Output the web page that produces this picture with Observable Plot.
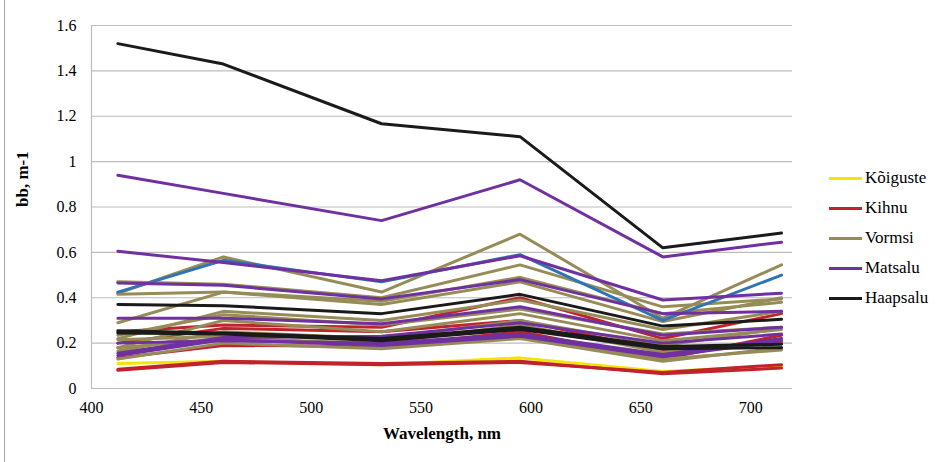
<!DOCTYPE html>
<html>
<head>
<meta charset="utf-8">
<script src="https://cdn.jsdelivr.net/npm/d3@7"></script>
<script src="https://cdn.jsdelivr.net/npm/@observablehq/plot@0.6"></script>
<style>
  html, body { margin: 0; padding: 0; background: #fff; }
  #wrap { position: relative; width: 943px; height: 462px; overflow: hidden; font-family: "Liberation Serif", "LiberationSerif", "Times New Roman", Times, "DejaVu Serif", serif; }
  #border { position: absolute; left: 4px; top: 0; width: 1px; height: 462px; background: #a6a6a6; }
  #legend { position: absolute; left: 829px; top: 163px; font-size: 17px; color: #000; }
  .item { display: flex; align-items: center; height: 30px; }
  .sw { width: 33px; height: 3px; margin-right: 3px; }
</style>
</head>
<body>
<div id="wrap"><div id="border"></div><div id="chart"></div><div id="legend"></div></div>
<script>
// Wavelengths (nm)
const wavelengths = [412, 460, 532, 595, 660, 714];

// bb (m-1) series per site, one array per measurement station
const koiguste = [
  [0.11, 0.12, 0.105, 0.135, 0.075, 0.10]
];
const kihnu = [
  [0.08, 0.115, 0.105, 0.115, 0.07, 0.105],
  [0.085, 0.12, 0.11, 0.12, 0.065, 0.09],
  [0.25, 0.28, 0.27, 0.40, 0.22, 0.33],
  [0.135, 0.19, 0.185, 0.25, 0.13, 0.235],
  [0.20, 0.265, 0.25, 0.30, 0.165, 0.20]
];
const vormsi = [
  [0.42, 0.58, 0.425, 0.68, 0.31, 0.545],
  [0.47, 0.46, 0.40, 0.545, 0.36, 0.395],
  [0.415, 0.425, 0.385, 0.49, 0.33, 0.38],
  [0.29, 0.425, 0.37, 0.47, 0.295, 0.40],
  [0.22, 0.34, 0.30, 0.39, 0.26, 0.34],
  [0.235, 0.325, 0.28, 0.35, 0.24, 0.27],
  [0.18, 0.30, 0.25, 0.33, 0.21, 0.26],
  [0.165, 0.25, 0.22, 0.30, 0.19, 0.265],
  [0.13, 0.20, 0.175, 0.22, 0.12, 0.18],
  [0.215, 0.23, 0.185, 0.23, 0.13, 0.17],
  [0.18, 0.22, 0.20, 0.28, 0.16, 0.21]
];
const matsalu = [
  [0.94, 0.86, 0.74, 0.92, 0.58, 0.645],
  [0.605, 0.555, 0.475, 0.585, 0.39, 0.42],
  [0.465, 0.455, 0.395, 0.48, 0.33, 0.34],
  [0.31, 0.31, 0.285, 0.36, 0.235, 0.27],
  [0.20, 0.21, 0.20, 0.24, 0.15, 0.22],
  [0.145, 0.215, 0.19, 0.23, 0.14, 0.21],
  [0.155, 0.225, 0.23, 0.29, 0.20, 0.24]
];
const haapsalu = [
  [1.52, 1.43, 1.167, 1.11, 0.62, 0.685],
  [0.37, 0.365, 0.33, 0.415, 0.275, 0.305],
  [0.255, 0.245, 0.22, 0.27, 0.185, 0.195],
  [0.245, 0.24, 0.21, 0.26, 0.175, 0.18]
];
const other = [
  [0.425, 0.565, 0.47, 0.59, 0.30, 0.50]
];

const groups = [
  {name: "Kõiguste", data: koiguste, color: "#f2e500", legend: true},
  {name: "Kihnu", data: kihnu, color: "#c0232b", legend: true},
  {name: "Vormsi", data: vormsi, color: "#968c58", legend: true},
  {name: "other", data: other, color: "#2f74b5", legend: false},
  {name: "Matsalu", data: matsalu, color: "#7030a0", legend: true},
  {name: "Haapsalu", data: haapsalu, color: "#1a1a1a", legend: true}
];

const rows = [];
groups.forEach((g) => g.data.forEach((s, si) => s.forEach((v, i) => {
  rows.push({id: g.name + si, group: g.name, color: g.color, wl: wavelengths[i], bb: v});
})));

const yTicks = [0, 0.2, 0.4, 0.6, 0.8, 1, 1.2, 1.4, 1.6];
const xTicks = [400, 450, 500, 550, 600, 650, 700];
const serif = "'Liberation Serif', LiberationSerif, 'Times New Roman', Times, 'DejaVu Serif', serif";

const chart = Plot.plot({
  width: 943,
  height: 462,
  marginLeft: 91,
  marginRight: 151,
  marginTop: 25,
  marginBottom: 74,
  style: {fontFamily: serif, fontSize: "16px", color: "#000", background: "transparent"},
  x: {domain: [400, 719]},
  y: {domain: [0, 1.6]},
  marks: [
    Plot.ruleY(yTicks, {stroke: "#bdbdbd", strokeWidth: 1.2}),
    Plot.ruleX([400], {stroke: "#bdbdbd", strokeWidth: 1.2}),
    Plot.line(rows, {x: "wl", y: "bb", z: "id", stroke: "color", strokeWidth: 3, strokeLinejoin: "miter"}),
    Plot.axisY(yTicks, {tickSize: 0, tickPadding: 15, fontSize: 16, fontFamily: serif, label: null, tickFormat: d => String(+d.toFixed(1))}),
    Plot.axisX(xTicks, {tickSize: 0, tickPadding: 13, fontSize: 16, fontFamily: serif, label: null, tickFormat: d => String(d)}),
    Plot.text(["Wavelength, nm"], {frameAnchor: "bottom", dy: 50, fontWeight: "bold", fontSize: 17, fontFamily: serif}),
    Plot.text(["bb, m-1"], {frameAnchor: "left", dx: -69, rotate: -90, fontWeight: "bold", fontSize: 17, fontFamily: serif})
  ]
});
document.getElementById("chart").appendChild(chart);

const legend = document.getElementById("legend");
groups.filter(g => g.legend).forEach(g => {
  const it = document.createElement("div");
  it.className = "item";
  const sw = document.createElement("div");
  sw.className = "sw";
  sw.style.background = g.color;
  const tx = document.createElement("span");
  tx.textContent = g.name;
  it.appendChild(sw);
  it.appendChild(tx);
  legend.appendChild(it);
});
</script>
</body>
</html>
